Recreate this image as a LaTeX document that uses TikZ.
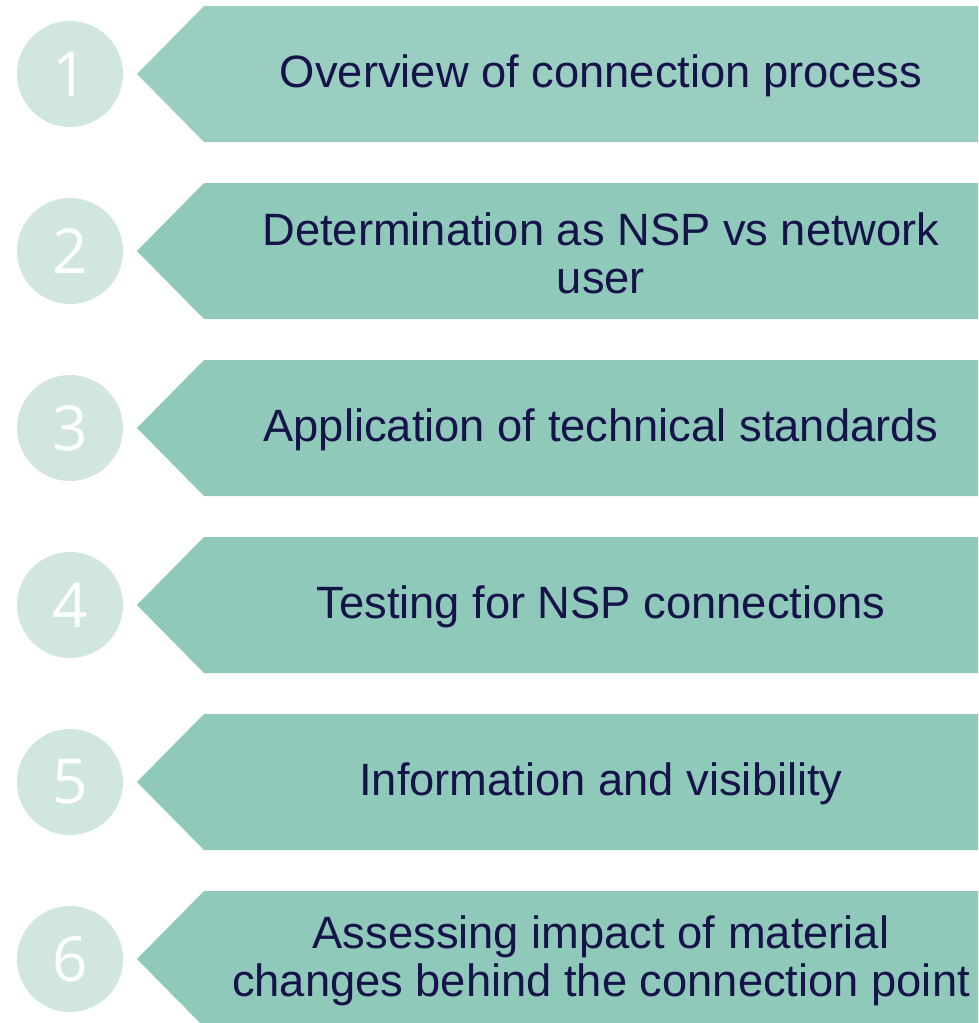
\documentclass[tikz,border=0pt]{standalone}
\usepackage{fontspec}
\setmainfont{Liberation Sans}
\newfontfamily\numfont{Open Sans}
\definecolor{bandA}{HTML}{9ACEC1}
\definecolor{bandB}{HTML}{8EC9B9}
\definecolor{circ}{HTML}{D1E6E1}
\definecolor{ink}{HTML}{16134A}
\tikzset{
  numcirc/.style={circle, fill=circ, minimum size=106pt, inner sep=0pt, text=white, font=\numfont\fontsize{62}{62}\selectfont},
  label/.style={text=ink, align=center, font=\fontsize{45.3}{48}\selectfont, inner sep=0pt}
}
\begin{document}
\begin{tikzpicture}[x=1pt,y=-1pt]
\useasboundingbox (0,0) rectangle (978,1023);
\clip (0,0) rectangle (978,1023);
\foreach \i/\col/\txt in {0/bandA/{Overview of connection process},
  1/bandB/{Determination as NSP vs network\\user},
  2/bandB/{Application of technical standards},
  3/bandB/{Testing for NSP connections},
  4/bandB/{Information and visibility},
  5/bandB/{Assessing impact of material\\changes behind the connection point}}{
  \pgfmathsetmacro{\c}{74+177*\i}
  \fill[\col] (137,\c) -- (204,\c-68) -- (990,\c-68) -- (990,\c+68) -- (204,\c+68) -- cycle;
  \pgfmathtruncatemacro{\n}{\i+1}
  \node[numcirc] (n\n) at (70,\c) {\n};
  \node[label] (t\n) at (601,\c+2) {\txt};
}
\end{tikzpicture}
\end{document}
